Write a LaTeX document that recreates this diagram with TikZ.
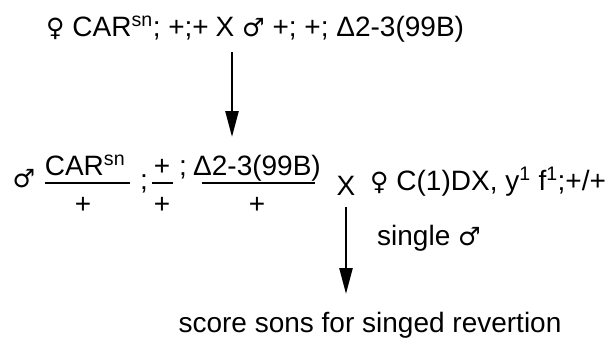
\documentclass[tikz,border=0pt]{standalone}
\usepackage{fontspec}
\setmainfont{Liberation Sans}
\newfontfamily\symfont{DejaVu Sans}[Scale=0.9]
\usetikzlibrary{arrows.meta}
\newcommand{\fem}{{\symfont ♀}}
\newcommand{\mal}{{\symfont ♂}}
\tikzset{
  txt/.style={font=\fontsize{28}{32}\selectfont, inner sep=0pt},
  arr/.style={-{Triangle[length=26pt,width=13pt]}, line width=2.5pt},
  bar/.style={line width=2.2pt}
}
\begin{document}
\begin{tikzpicture}[x=1pt,y=-1pt]
  \useasboundingbox (0,0) rectangle (605,340);
  % first cross
  \node[txt, anchor=base east] (pfem) at (209,36) {\fem\ CAR\textsuperscript{sn}; +;+};
  \node[txt, anchor=base] (cross1) at (225,36) {X};
  \node[txt, anchor=base west] (pmal) at (242,36) {\mal\ +; +; Δ2-3(99B)};
  \coordinate (tip1) at (232,137);
  \draw[arr, shorten <=16pt] (cross1.south -| tip1) -- (tip1);

  % second cross
  \node[txt, anchor=base] (male) at (24,187) {\mal};
  \node[txt, anchor=base] (num1) at (85,175) {CAR\textsuperscript{sn}};
  \draw[bar] (45,183) -- (130,183);
  \node[txt, anchor=base] (den1) at (83,213) {+};
  \node[txt, anchor=base] (semi1) at (144,189) {;};
  \node[txt, anchor=base] (num2) at (162,175) {+};
  \draw[bar] (152,183) -- (173,183);
  \node[txt, anchor=base] (den2) at (162,213) {+};
  \node[txt, anchor=base] (semi2) at (183,175) {;};
  \node[txt, anchor=base] (num3) at (257,175) {Δ2-3(99B)};
  \draw[bar] (202,183) -- (315,183);
  \node[txt, anchor=base] (den3) at (257,213) {+};
  \node[txt, anchor=base] (cross2) at (346,195) {X};
  \node[txt, anchor=base west] (cfem) at (370,190) {\fem\ C(1)DX, y\textsuperscript{1} f\textsuperscript{1};+/+};

  % screen
  \node[txt, anchor=base west] (single) at (377,245) {single \mal};
  \coordinate (tip2) at (346,294);
  \draw[arr, shorten <=12pt] (cross2.south) -- (tip2);
  \node[txt, anchor=base] (score) at (370,332) {score sons for singed revertion};
\end{tikzpicture}
\end{document}
